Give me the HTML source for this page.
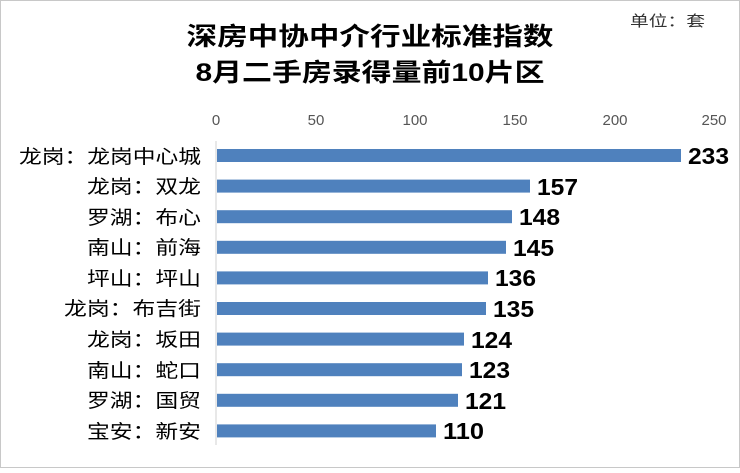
<!DOCTYPE html>
<html><head><meta charset="utf-8"><style>
body{margin:0;width:740px;height:468px;background:#fff;overflow:hidden}
</style></head><body>
<svg width="740" height="468" xmlns="http://www.w3.org/2000/svg" font-family="Liberation Sans, Noto Sans CJK SC, sans-serif">
<rect x="0.5" y="0.5" width="739" height="467" fill="#fff" stroke="#c8c8c8"/>
<text x="370" y="45" font-size="25" font-weight="bold" text-anchor="middle" fill="#000" textLength="367" lengthAdjust="spacingAndGlyphs">深房中协中介行业标准指数</text>
<text x="370" y="81" font-size="25" font-weight="bold" text-anchor="middle" fill="#000" textLength="349" lengthAdjust="spacingAndGlyphs">8月二手房录得量前10片区</text>
<text x="705" y="26" font-size="15" text-anchor="end" fill="#333" textLength="75" lengthAdjust="spacingAndGlyphs">单位：套</text>
<g font-size="15" fill="#555" text-anchor="middle">
<text x="216" y="125">0</text><text x="316" y="125">50</text><text x="415" y="125">100</text>
<text x="515" y="125">150</text><text x="615" y="125">200</text><text x="714" y="125">250</text>
</g>
<line x1="216" y1="141" x2="216" y2="445" stroke="#d0d0d0"/>
<g fill="#4f81bd">
<rect x="217" y="149" width="464" height="13"/>
<rect x="217" y="179.6" width="313" height="13"/>
<rect x="217" y="210.2" width="295" height="13"/>
<rect x="217" y="240.8" width="289" height="13"/>
<rect x="217" y="271.4" width="271" height="13"/>
<rect x="217" y="302" width="269" height="13"/>
<rect x="217" y="332.6" width="247" height="13"/>
<rect x="217" y="363.2" width="245" height="13"/>
<rect x="217" y="393.8" width="241" height="13"/>
<rect x="217" y="424.4" width="219" height="13"/>
</g>
<g font-size="23" font-weight="bold" fill="#000">
<text x="688" y="164" textLength="41" lengthAdjust="spacingAndGlyphs">233</text>
<text x="537" y="195" textLength="41" lengthAdjust="spacingAndGlyphs">157</text>
<text x="519" y="225" textLength="41" lengthAdjust="spacingAndGlyphs">148</text>
<text x="513" y="256" textLength="41" lengthAdjust="spacingAndGlyphs">145</text>
<text x="495" y="286" textLength="41" lengthAdjust="spacingAndGlyphs">136</text>
<text x="493" y="317" textLength="41" lengthAdjust="spacingAndGlyphs">135</text>
<text x="471" y="348" textLength="41" lengthAdjust="spacingAndGlyphs">124</text>
<text x="469" y="378" textLength="41" lengthAdjust="spacingAndGlyphs">123</text>
<text x="465" y="409" textLength="41" lengthAdjust="spacingAndGlyphs">121</text>
<text x="443" y="439" textLength="41" lengthAdjust="spacingAndGlyphs">110</text>
</g>
<g font-size="19" fill="#000" text-anchor="end">
<text x="201" y="163" textLength="182" lengthAdjust="spacingAndGlyphs">龙岗：龙岗中心城</text>
<text x="201" y="193" textLength="114" lengthAdjust="spacingAndGlyphs">龙岗：双龙</text>
<text x="201" y="224" textLength="114" lengthAdjust="spacingAndGlyphs">罗湖：布心</text>
<text x="201" y="254" textLength="114" lengthAdjust="spacingAndGlyphs">南山：前海</text>
<text x="201" y="285" textLength="114" lengthAdjust="spacingAndGlyphs">坪山：坪山</text>
<text x="201" y="315" textLength="137" lengthAdjust="spacingAndGlyphs">龙岗：布吉街</text>
<text x="201" y="346" textLength="114" lengthAdjust="spacingAndGlyphs">龙岗：坂田</text>
<text x="201" y="377" textLength="114" lengthAdjust="spacingAndGlyphs">南山：蛇口</text>
<text x="201" y="407" textLength="114" lengthAdjust="spacingAndGlyphs">罗湖：国贸</text>
<text x="201" y="438" textLength="114" lengthAdjust="spacingAndGlyphs">宝安：新安</text>
</g>
</svg>
</body></html>
